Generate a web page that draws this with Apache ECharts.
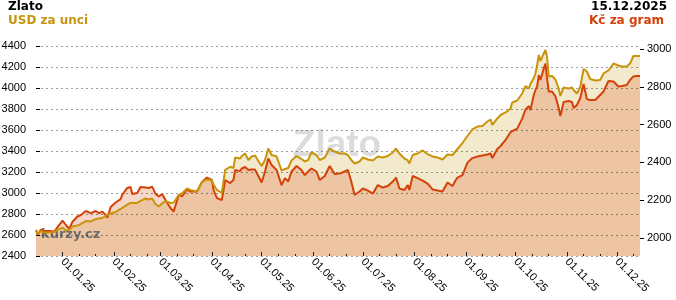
<!DOCTYPE html>
<html><head><meta charset="utf-8">
<script src="https://cdn.jsdelivr.net/npm/echarts@6/dist/echarts.min.js"></script>
<style>html,body{margin:0;padding:0;background:#fff}#c{width:676px;height:300px}</style>
</head><body><div id="c"></div>
<script>
const dates = ['2024-12-16','2024-12-17','2024-12-19','2024-12-21','2024-12-24','2024-12-27','2024-12-29',
'2025-01-01','2025-01-03','2025-01-05','2025-01-07','2025-01-10','2025-01-12','2025-01-15','2025-01-18','2025-01-21','2025-01-23','2025-01-25','2025-01-27','2025-01-28','2025-01-30',
'2025-02-02','2025-02-05','2025-02-06','2025-02-09','2025-02-11','2025-02-12','2025-02-15','2025-02-17','2025-02-20','2025-02-22','2025-02-24','2025-02-26','2025-02-28',
'2025-03-02','2025-03-04','2025-03-07','2025-03-09','2025-03-12','2025-03-14','2025-03-17','2025-03-19','2025-03-23','2025-03-26','2025-03-29',
'2025-04-01','2025-04-02','2025-04-04','2025-04-07','2025-04-09','2025-04-12','2025-04-14','2025-04-15','2025-04-18','2025-04-19','2025-04-21','2025-04-23','2025-04-25','2025-04-27','2025-04-29',
'2025-05-01','2025-05-03','2025-05-05','2025-05-07','2025-05-10','2025-05-13','2025-05-15','2025-05-17','2025-05-19','2025-05-22','2025-05-25','2025-05-27','2025-05-29','2025-05-31',
'2025-06-03','2025-06-05','2025-06-08','2025-06-11','2025-06-14','2025-06-17','2025-06-20','2025-06-22','2025-06-24','2025-06-26','2025-06-29',
'2025-07-01','2025-07-04','2025-07-07','2025-07-10','2025-07-13','2025-07-16','2025-07-19','2025-07-21','2025-07-23','2025-07-26','2025-07-28','2025-07-29','2025-07-31',
'2025-08-03','2025-08-06','2025-08-09','2025-08-12','2025-08-15','2025-08-18','2025-08-21','2025-08-24','2025-08-26','2025-08-27','2025-08-30',
'2025-09-02','2025-09-05','2025-09-08','2025-09-11','2025-09-14','2025-09-16','2025-09-17','2025-09-20','2025-09-22','2025-09-25','2025-09-28','2025-09-29',
'2025-10-02','2025-10-05','2025-10-07','2025-10-09','2025-10-10','2025-10-12','2025-10-13','2025-10-14','2025-10-15','2025-10-16','2025-10-18','2025-10-19','2025-10-20','2025-10-21','2025-10-23','2025-10-25','2025-10-27','2025-10-28','2025-10-30',
'2025-11-02','2025-11-04','2025-11-05','2025-11-07','2025-11-09','2025-11-11','2025-11-13','2025-11-15','2025-11-18','2025-11-21','2025-11-23','2025-11-26','2025-11-29',
'2025-12-02','2025-12-04','2025-12-07','2025-12-09','2025-12-11','2025-12-13','2025-12-15'];

const usd = [2648,2610,2638,2624,2624,2629,2648,
2671,2643,2648,2681,2690,2705,2733,2729,2752,2757,2762,2781,2786,2805,
2819,2848,2867,2890,2905,2890,2905,2924,2948,2938,2948,2895,2871,
2900,2924,2905,2910,2981,2995,3043,3029,3014,3105,3129,
3119,3081,3029,3000,3219,3250,3238,3338,3329,3352,3376,3314,3348,3357,3305,
3257,3314,3424,3362,3348,3214,3229,3238,3310,3352,3324,3300,3314,3386,
3362,3314,3338,3424,3395,3376,3376,3362,3314,3281,3300,
3338,3319,3310,3348,3338,3352,3386,3424,3376,3329,3310,3281,3362,
3376,3405,3371,3348,3338,3319,3367,3362,3400,3410,3476,
3543,3605,3633,3638,3681,3700,3648,3710,3743,3767,3805,3862,
3881,3948,4019,3995,4038,4095,4138,4219,4314,4257,4329,4362,4295,4110,4114,4081,3995,3924,4005,
3995,4005,3981,3948,4010,4181,4157,4086,4071,4076,4138,4167,4233,
4214,4205,4205,4233,4305,4305,4305];

const czk = [2042,2016,2045,2037,2037,2034,2058,
2092,2069,2048,2086,2114,2122,2143,2132,2143,2132,2140,2122,2108,2164,
2188,2206,2230,2265,2270,2233,2238,2270,2267,2265,2272,2235,2220,
2233,2201,2159,2140,2228,2220,2257,2246,2246,2296,2320,
2307,2254,2212,2201,2307,2291,2307,2360,2354,2368,2376,2360,2362,2362,2328,
2294,2352,2421,2386,2360,2280,2317,2299,2352,2381,2360,2333,2352,2368,
2352,2307,2328,2381,2339,2341,2352,2360,2299,2228,2246,
2262,2251,2235,2280,2267,2275,2299,2320,2262,2254,2280,2254,2328,
2317,2304,2288,2257,2251,2246,2294,2275,2307,2320,2333,
2399,2423,2431,2437,2442,2447,2423,2471,2487,2519,2561,2571,
2579,2632,2680,2698,2677,2757,2783,2801,2862,2836,2897,2923,2847,2775,2775,2751,2688,2645,2720,
2725,2720,2688,2704,2741,2815,2735,2730,2730,2757,2775,2831,2828,
2802,2804,2810,2836,2855,2857,2857];

const monthTicks = ['2025-01-01','2025-02-01','2025-03-01','2025-04-01','2025-05-01','2025-06-01',
'2025-07-01','2025-08-01','2025-09-01','2025-10-01','2025-11-01','2025-12-01'];
const minorTicks = ['2025-01-11','2025-01-21','2025-02-11','2025-02-21','2025-03-11','2025-03-21',
'2025-04-11','2025-04-21','2025-05-11','2025-05-21','2025-06-11','2025-06-21','2025-07-11','2025-07-21',
'2025-08-11','2025-08-21','2025-09-11','2025-09-21','2025-10-11','2025-10-21','2025-11-11','2025-11-21','2025-12-11'];
const czkTicks = [2000,2200,2400,2600,2800,3000];

function ts(s){const p=s.split('-');return new Date(+p[0],+p[1]-1,+p[2]).getTime();}
function fmt(v){const d=new Date(v);const p=n=>(n<10?'0':'')+n;return p(d.getDate())+'.'+p(d.getMonth()+1)+'.'+p(d.getFullYear()%100);}
function plain(v){return String(Math.round(v));}

const GOLD='#c8940c', RED='#d4420a';
const usdData = dates.map((d,i)=>[ts(d),usd[i]]);
const czkData = dates.map((d,i)=>[ts(d),czk[i]]);
const xMin = ts('2024-12-16'), xMax = ts('2025-12-15');
const lab = {fontFamily:'"Liberation Sans", Arial, sans-serif', fontSize:11, color:'#000'};

const chart = echarts.init(document.getElementById('c'), null, {renderer:'canvas'});
chart.setOption({
  animation:false,
  grid:{left:36,right:36,top:46,bottom:44,containLabel:false,outerBoundsMode:'none'},
  xAxis:[{
    type:'value',min:xMin,max:xMax,position:'bottom',z:4,scale:true,
    axisLine:{show:false},
    axisTick:{show:true,inside:true,length:4,customValues:monthTicks.map(ts),lineStyle:{color:'#222',width:1}},
    axisLabel:Object.assign({customValues:monthTicks.map(ts),rotate:-45,margin:4,formatter:fmt,hideOverlap:false},lab),
    splitLine:{show:false}
  },{
    type:'value',min:xMin,max:xMax,position:'bottom',z:4,scale:true,
    axisLine:{show:false},
    axisTick:{show:true,inside:true,length:2,customValues:minorTicks.map(ts),lineStyle:{color:'#222',width:1}},
    axisLabel:{show:false},
    splitLine:{show:false}
  }],
  yAxis:[{
    type:'value',min:2400,max:4400,interval:200,position:'left',z:4,
    axisLine:{show:false},
    axisTick:{show:true,inside:true,length:4,lineStyle:{color:'#000'}},
    axisLabel:Object.assign({margin:10,formatter:plain},lab),
    splitLine:{show:true,lineStyle:{color:'rgba(0,0,0,0.38)',type:[2,3],width:1}}
  },{
    type:'value',min:1905,max:3016,position:'right',z:4,scale:true,
    axisLine:{show:false},
    axisTick:{show:true,inside:false,length:4,customValues:czkTicks,lineStyle:{color:'#000'}},
    axisLabel:Object.assign({margin:7,customValues:czkTicks,formatter:plain},lab),
    splitLine:{show:false}
  }],
  graphic:[
    {type:'text',left:8,top:1,z:3,style:{text:'Zlato',font:'bold 12px "DejaVu Sans"',fill:'#000'}},
    {type:'text',left:8,top:15,z:3,style:{text:'USD za unci',font:'bold 12px "DejaVu Sans"',fill:GOLD}},
    {type:'text',right:9,top:1,z:3,style:{text:'15.12.2025',font:'bold 12px "DejaVu Sans"',fill:'#000'}},
    {type:'text',right:12,top:15,z:3,style:{text:'Kč za gram',font:'bold 12px "DejaVu Sans"',fill:RED}},
    {type:'text',x:337,y:145.5,z:3,style:{text:'Zlato',font:'bold 37px "Liberation Sans"',fill:'#dcdcdc',align:'center',verticalAlign:'middle'}},
    {type:'text',x:41,y:235,z:3,style:{text:'kurzy.cz',font:'bold 13px "DejaVu Sans"',fill:'#6e6e6e',align:'left',verticalAlign:'middle'}}
  ],
  series:[
    {type:'line',xAxisIndex:0,yAxisIndex:0,data:usdData,showSymbol:false,silent:true,z:1,
     lineStyle:{width:0,opacity:0},areaStyle:{color:'#f3e9cc',opacity:1,origin:'start'}},
    {type:'line',xAxisIndex:0,yAxisIndex:1,data:czkData,showSymbol:false,silent:true,z:2,
     lineStyle:{width:0,opacity:0},areaStyle:{color:'rgba(218,69,14,0.22)',opacity:1,origin:'start'}},
    {type:'line',xAxisIndex:0,yAxisIndex:1,data:czkData,showSymbol:false,silent:true,z:5,
     lineStyle:{width:2,color:RED},itemStyle:{color:RED}},
    {type:'line',xAxisIndex:0,yAxisIndex:0,data:usdData,showSymbol:false,silent:true,z:6,
     lineStyle:{width:2,color:GOLD},itemStyle:{color:GOLD}}
  ]
});
</script></body></html>
